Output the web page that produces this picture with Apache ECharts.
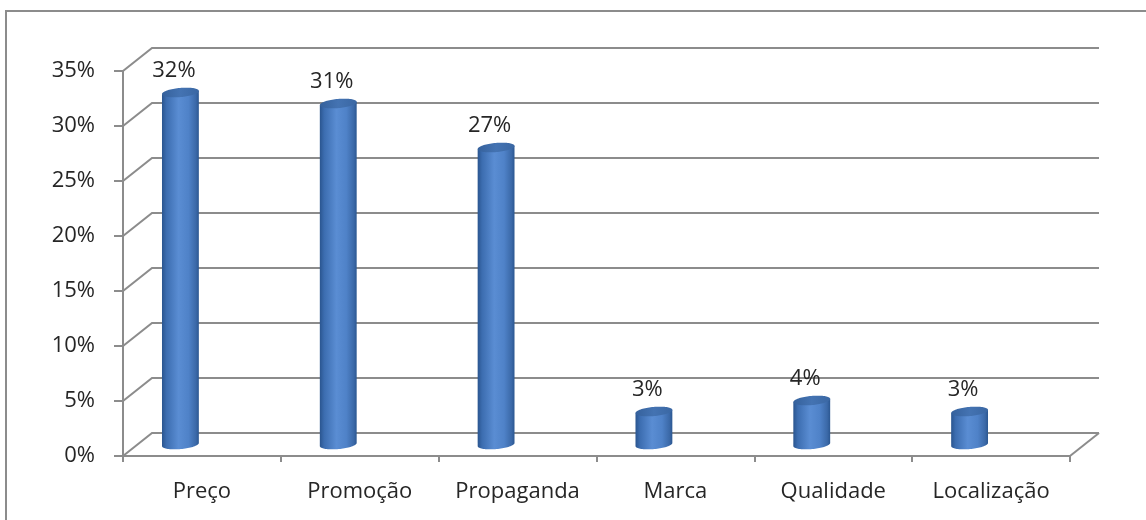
<!DOCTYPE html>
<html>
<head>
<meta charset="utf-8">
<script src="https://cdn.jsdelivr.net/npm/echarts@6/dist/echarts.min.js"></script>
<style>
  html, body { margin: 0; padding: 0; background: #ffffff; }
  #chart { width: 1146px; height: 520px; }
</style>
</head>
<body>
<div id="chart"></div>
<script>
// Categories and their shares (fraction of respondents)
const categories = ['Preço', 'Promoção', 'Propaganda', 'Marca', 'Qualidade', 'Localização'];
const shares = [0.32, 0.31, 0.27, 0.03, 0.04, 0.03];
// Value axis ticks
const percentTicks = [0, 0.05, 0.10, 0.15, 0.20, 0.25, 0.30, 0.35];
const yMax = 0.35;
const yStep = 0.05;

// Oblique depth of the 3D box (back wall offset from the front plane)
const DX = 29, DY = -23;
const GRID_COLOR = '#8c8c8c';
const FONT = '"Open Sans", Lato, sans-serif';
const FONT_SIZE = 22;
const TEXT_COLOR = '#262626';

const chart = echarts.init(document.getElementById('chart'), null, { renderer: 'canvas' });

function ellipsePoint(cx, cy, rx, ry, tilt, t) {
  const c = Math.cos(t), s = Math.sin(t);
  return [
    cx + rx * c * Math.cos(tilt) - ry * s * Math.sin(tilt),
    cy + rx * c * Math.sin(tilt) + ry * s * Math.cos(tilt)
  ];
}

// Back wall grid lines plus the diagonals joining them to the front axis
function renderWalls(params, api) {
  const cs = params.coordSys;
  const v = api.value(1);
  const y = api.coord([0, v])[1];
  const x0 = cs.x, x1 = cs.x + cs.width;
  const children = [{
    type: 'polyline',
    shape: { points: [[x0, y], [x0 + DX, y + DY], [x1 + DX, y + DY]] },
    style: { stroke: GRID_COLOR, lineWidth: 2, fill: null }
  }];
  if (v === 0) {
    children.push({
      type: 'line',
      shape: { x1: x1, y1: y, x2: x1 + DX, y2: y + DY },
      style: { stroke: GRID_COLOR, lineWidth: 2 }
    });
  }
  return { type: 'group', children: children };
}

// Cylinders with their value labels
function renderCylinder(params, api) {
  const i = api.value(0), v = api.value(1);
  const top = api.coord([i, v]);
  const base = api.coord([i, 0]);
  const cx = top[0] - 21.5;
  const topY = top[1] + DY / 2;
  const botY = base[1] + DY / 2;
  const rx = 18.5, ry = 4.6, tilt = -0.09;
  const N = 40;

  // body outline: left side, front half of bottom ellipse, right side
  const body = [];
  body.push(ellipsePoint(cx, topY, rx, ry, tilt, Math.PI));
  for (let k = 0; k <= N; k++) {
    const t = Math.PI - Math.PI * k / N;
    body.push(ellipsePoint(cx, botY, rx, ry, tilt, t));
  }
  body.push(ellipsePoint(cx, topY, rx, ry, tilt, 0));

  const cap = [];
  for (let k = 0; k < 2 * N; k++) {
    cap.push(ellipsePoint(cx, topY, rx, ry, tilt, 2 * Math.PI * k / (2 * N)));
  }

  return {
    type: 'group',
    children: [
      {
        type: 'polygon',
        shape: { points: body },
        style: {
          fill: new echarts.graphic.LinearGradient(0, 0, 1, 0, [
            { offset: 0, color: '#2a558f' },
            { offset: 0.12, color: '#3c6db0' },
            { offset: 0.45, color: '#5a8dd3' },
            { offset: 0.72, color: '#4f82c8' },
            { offset: 0.92, color: '#3b69a8' },
            { offset: 1, color: '#2b5791' }
          ]),
          stroke: null
        }
      },
      {
        type: 'polygon',
        shape: { points: cap },
        style: {
          fill: new echarts.graphic.LinearGradient(0, 0, 1, 0, [
            { offset: 0, color: '#35619c' },
            { offset: 0.5, color: '#4473b2' },
            { offset: 1, color: '#3a67a3' }
          ]),
          stroke: null
        }
      },
      {
        type: 'text',
        style: {
          text: Math.round(v * 100) + '%',
          x: cx - 6.5,
          y: topY - ry - 17,
          align: 'center',
          verticalAlign: 'middle',
          fontSize: FONT_SIZE,
          fontFamily: FONT,
          fill: TEXT_COLOR
        }
      }
    ]
  };
}

const option = {
  backgroundColor: '#ffffff',
  animation: false,
  graphic: [{
    type: 'rect',
    shape: { x: 6, y: 11, width: 1170, height: 540 },
    style: { fill: null, stroke: GRID_COLOR, lineWidth: 2 },
    silent: true
  }],
  grid: { left: 123, right: 76, top: 71, bottom: 64 },
  xAxis: {
    type: 'category',
    data: categories,
    boundaryGap: true,
    axisLine: { show: true, lineStyle: { color: GRID_COLOR, width: 2 } },
    axisTick: { show: true, interval: 0, length: 6, alignWithLabel: false, lineStyle: { color: GRID_COLOR, width: 2 } },
    axisLabel: { interval: 0, margin: 25, fontSize: FONT_SIZE, fontFamily: FONT, color: TEXT_COLOR },
    splitLine: { show: false }
  },
  yAxis: {
    type: 'value',
    min: 0,
    max: yMax,
    interval: yStep,
    axisLine: { show: true, lineStyle: { color: GRID_COLOR, width: 2 } },
    axisTick: { show: true, length: 9, lineStyle: { color: GRID_COLOR, width: 2 } },
    axisLabel: {
      margin: 28,
      fontSize: FONT_SIZE,
      fontFamily: FONT,
      color: TEXT_COLOR,
      formatter: function (val) { return Math.round(val * 100) + '%'; }
    },
    splitLine: { show: false }
  },
  series: [
    {
      type: 'custom',
      name: 'walls',
      z: 1,
      silent: true,
      renderItem: renderWalls,
      data: percentTicks.map(function (v) { return [0, v]; })
    },
    {
      type: 'custom',
      name: 'shares',
      z: 3,
      renderItem: renderCylinder,
      data: shares.map(function (v, i) { return [i, v]; })
    }
  ]
};

chart.setOption(option);
</script>
</body>
</html>
